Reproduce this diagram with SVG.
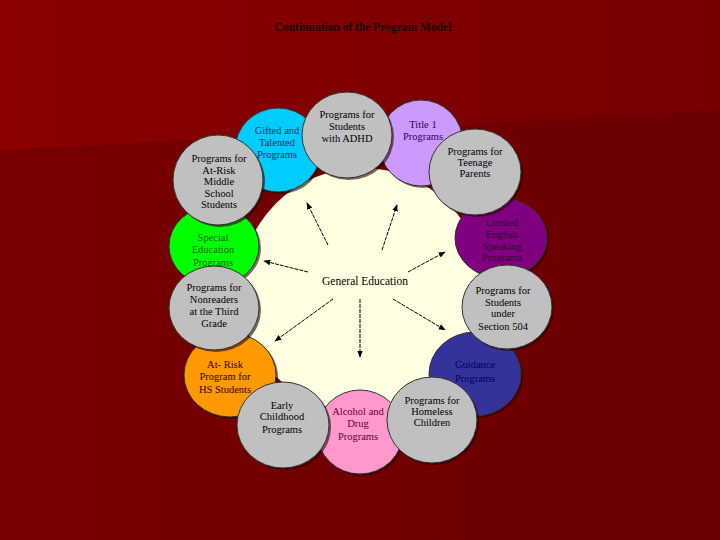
<svg xmlns="http://www.w3.org/2000/svg" width="720" height="540" viewBox="0 0 720 540">
<defs>
<linearGradient id="bgTop" x1="0" y1="0" x2="1" y2="0">
<stop offset="0" stop-color="#8c0000"/>
<stop offset="1" stop-color="#760000"/>
</linearGradient>
<linearGradient id="bgLow" x1="0" y1="0" x2="1" y2="0">
<stop offset="0" stop-color="#780000"/>
<stop offset="1" stop-color="#6c0000"/>
</linearGradient>
<marker id="arr" viewBox="0 0 10 10" refX="9" refY="5" markerWidth="7" markerHeight="7" orient="auto" markerUnits="userSpaceOnUse">
<path d="M0,1 L10,5 L0,9 Z" fill="#000"/>
</marker>
</defs>
<style>
text{font-family:"Liberation Serif","Times New Roman",serif;font-size:10.5px;text-anchor:middle;}
.shadow{fill:#2a0000;opacity:0.6;}
.c{stroke:#333;stroke-width:1;}
.gray{fill:#c0c0c0;}
.conn line{stroke:#000;stroke-width:1;stroke-dasharray:4 1;marker-end:url(#arr);}
.title{font-size:11.5px;font-weight:bold;fill:#1a0000;}
</style>
<rect width="720" height="540" fill="url(#bgLow)"/>
<polygon points="0,0 720,0 720,110 250,137 0,150" fill="url(#bgTop)"/>
<text class="title" x="363" y="31">Continuation of the Program Model</text>

<g id="center">
<circle cx="362" cy="290" r="122" fill="#ffffe2"/>
<text x="365" y="285" style="font-size:11.5px">General Education</text>
</g>

<g id="gifted">
<ellipse class="shadow" cx="280" cy="152" rx="43" ry="42"/>
<ellipse class="c" cx="278" cy="150" rx="43" ry="42" fill="#00ccff"/>
<text fill="#1a3366"><tspan x="277" y="134">Gifted and</tspan><tspan x="277" y="146">Talented</tspan><tspan x="277" y="158">Programs</tspan></text>
</g>
<g id="title1">
<ellipse class="shadow" cx="423" cy="145" rx="42" ry="43"/>
<ellipse class="c" cx="421" cy="143" rx="42" ry="43" fill="#cc99ff"/>
<text fill="#330066"><tspan x="423" y="128">Title 1</tspan><tspan x="423" y="140">Programs</tspan></text>
</g>
<g id="limited-english">
<ellipse class="shadow" cx="503" cy="240" rx="46" ry="40"/>
<ellipse class="c" cx="501" cy="238" rx="46" ry="40" fill="#800080"/>
<text fill="#330033"><tspan x="502" y="226">Limited</tspan><tspan x="502" y="238">English</tspan><tspan x="502" y="250">Speaking</tspan><tspan x="502" y="261">Programs</tspan></text>
</g>
<g id="guidance">
<ellipse class="shadow" cx="477" cy="376" rx="46" ry="42"/>
<ellipse class="c" cx="475" cy="374" rx="46" ry="42" fill="#333399"/>
<text fill="#000066"><tspan x="475" y="368">Guidance</tspan><tspan x="475" y="382">Programs</tspan></text>
</g>
<g id="alcohol">
<ellipse class="shadow" cx="362" cy="434" rx="43" ry="42"/>
<ellipse class="c" cx="360" cy="432" rx="43" ry="42" fill="#ff99cc"/>
<text fill="#660033"><tspan x="358" y="415">Alcohol and</tspan><tspan x="358" y="427">Drug</tspan><tspan x="358" y="440">Programs</tspan></text>
</g>
<g id="atrisk-hs">
<ellipse class="shadow" cx="232" cy="377" rx="46" ry="42"/>
<ellipse class="c" cx="230" cy="375" rx="46" ry="42" fill="#ff9900"/>
<text fill="#330000"><tspan x="225" y="368">At- Risk</tspan><tspan x="225" y="380">Program for</tspan><tspan x="225" y="393">HS Students</tspan></text>
</g>
<g id="special-ed">
<ellipse class="shadow" cx="216" cy="248" rx="45" ry="40"/>
<ellipse class="c" cx="214" cy="246" rx="45" ry="40" fill="#00ff00"/>
<text fill="#006600"><tspan x="213" y="241">Special</tspan><tspan x="213" y="253">Education</tspan><tspan x="213" y="266">Programs</tspan></text>
</g>

<g id="adhd">
<ellipse class="shadow" cx="349" cy="137" rx="45" ry="43"/>
<ellipse class="c gray" cx="347" cy="135" rx="45" ry="43"/>
<text fill="#000"><tspan x="347" y="118">Programs for</tspan><tspan x="347" y="130">Students</tspan><tspan x="347" y="142">with ADHD</tspan></text>
</g>
<g id="teenage">
<ellipse class="shadow" cx="477" cy="174" rx="46" ry="43"/>
<ellipse class="c gray" cx="475" cy="172" rx="46" ry="43"/>
<text fill="#000"><tspan x="475" y="155">Programs for</tspan><tspan x="475" y="166">Teenage</tspan><tspan x="475" y="177">Parents</tspan></text>
</g>
<g id="section504">
<ellipse class="shadow" cx="509" cy="309" rx="45" ry="42"/>
<ellipse class="c gray" cx="507" cy="307" rx="45" ry="42"/>
<text fill="#000"><tspan x="503" y="294">Programs for</tspan><tspan x="503" y="306">Students</tspan><tspan x="503" y="317">under</tspan><tspan x="503" y="330">Section 504</tspan></text>
</g>
<g id="homeless">
<ellipse class="shadow" cx="434" cy="422" rx="45" ry="43"/>
<ellipse class="c gray" cx="432" cy="420" rx="45" ry="43"/>
<text fill="#000"><tspan x="432" y="404">Programs for</tspan><tspan x="432" y="415">Homeless</tspan><tspan x="432" y="426">Children</tspan></text>
</g>
<g id="early-childhood">
<ellipse class="shadow" cx="285" cy="427" rx="46" ry="43"/>
<ellipse class="c gray" cx="283" cy="425" rx="46" ry="43"/>
<text fill="#000"><tspan x="282" y="409">Early</tspan><tspan x="282" y="420">Childhood</tspan><tspan x="282" y="433">Programs</tspan></text>
</g>
<g id="nonreaders">
<ellipse class="shadow" cx="216" cy="310" rx="45" ry="42"/>
<ellipse class="c gray" cx="214" cy="308" rx="45" ry="42"/>
<text fill="#000"><tspan x="214" y="291">Programs for</tspan><tspan x="214" y="303">Nonreaders</tspan><tspan x="214" y="315">at the Third</tspan><tspan x="214" y="327">Grade</tspan></text>
</g>
<g id="atrisk-middle">
<ellipse class="shadow" cx="220" cy="182" rx="45" ry="45"/>
<ellipse class="c gray" cx="218" cy="180" rx="45" ry="45"/>
<text fill="#000"><tspan x="219" y="162">Programs for</tspan><tspan x="219" y="174">At-Risk</tspan><tspan x="219" y="185">Middle</tspan><tspan x="219" y="197">School</tspan><tspan x="219" y="208">Students</tspan></text>
</g>

<g id="connectors" class="conn">
<line x1="328" y1="245" x2="307" y2="203"/>
<line x1="382" y1="250" x2="397" y2="205"/>
<line x1="408" y1="272" x2="445" y2="252"/>
<line x1="308" y1="272" x2="264" y2="261"/>
<line x1="333" y1="299" x2="275" y2="341"/>
<line x1="360" y1="299" x2="360" y2="357"/>
<line x1="393" y1="299" x2="445" y2="330"/>
</g>
</svg>
